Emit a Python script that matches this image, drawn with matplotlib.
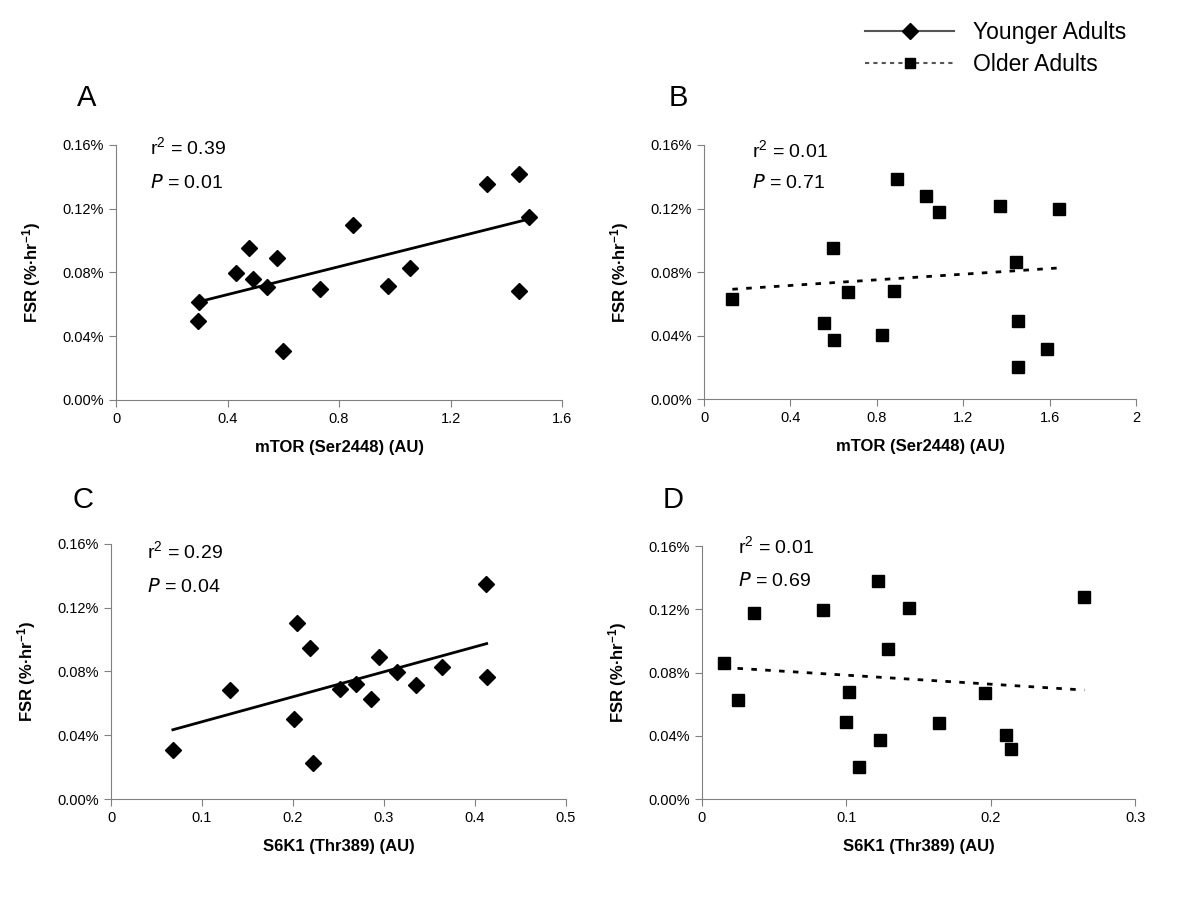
import numpy as np
import matplotlib
matplotlib.use("Agg")
import matplotlib.pyplot as plt
from matplotlib.lines import Line2D
from matplotlib.ticker import FuncFormatter

plt.rcParams['font.family'] = ['Liberation Sans', 'DejaVu Sans']
plt.rcParams['mathtext.default'] = 'regular'

# Panel A: younger adults, mTOR vs FSR (%/hr)
a_x = [0.296, 0.293, 0.429, 0.478, 0.490, 0.543, 0.577, 0.600, 0.733, 0.851,
       0.977, 1.054, 1.329, 1.445, 1.445, 1.481]
a_y = [0.0617, 0.0496, 0.0799, 0.0952, 0.0761, 0.0711, 0.0893, 0.0307, 0.0694, 0.1098,
       0.0717, 0.0828, 0.1355, 0.1420, 0.0686, 0.1150]

# Panel B: older adults, mTOR vs FSR
b_x = [0.131, 0.598, 0.556, 0.602, 0.666, 0.825, 0.879, 0.894, 1.027, 1.087,
       1.370, 1.444, 1.453, 1.453, 1.588, 1.645]
b_y = [0.0629, 0.0950, 0.0482, 0.0375, 0.0675, 0.0403, 0.0682, 0.1384, 0.1279, 0.1179,
       0.1214, 0.0864, 0.0493, 0.0206, 0.0317, 0.1200]

# Panel C: younger adults, S6K1 vs FSR
c_x = [0.068, 0.131, 0.201, 0.205, 0.219, 0.222, 0.252, 0.269, 0.286, 0.295,
       0.314, 0.335, 0.364, 0.412, 0.413]
c_y = [0.0307, 0.0686, 0.0504, 0.1104, 0.0950, 0.0224, 0.0692, 0.0722, 0.0627, 0.0891,
       0.0797, 0.0715, 0.0826, 0.1351, 0.0768]

# Panel D: older adults, S6K1 vs FSR
d_x = [0.0152, 0.0251, 0.0362, 0.0839, 0.1001, 0.1017, 0.1088, 0.1222, 0.1236, 0.1289,
       0.1434, 0.1642, 0.1962, 0.2105, 0.2140, 0.2647]
d_y = [0.0861, 0.0627, 0.1177, 0.1198, 0.0488, 0.0680, 0.0204, 0.1381, 0.0373, 0.0949,
       0.1211, 0.0482, 0.0669, 0.0404, 0.0316, 0.1278]

stats = {"A": ("0.39", "0.01"), "B": ("0.01", "0.71"),
         "C": ("0.29", "0.04"), "D": ("0.01", "0.69")}

y_ticks = [0.0, 0.04, 0.08, 0.12, 0.16]
mtor_ticks = [0, 0.4, 0.8, 1.2, 1.6]
mtor_ticks_b = [0, 0.4, 0.8, 1.2, 1.6, 2]
s6k1_ticks = [0, 0.1, 0.2, 0.3, 0.4, 0.5]
s6k1_ticks_d = [0, 0.1, 0.2, 0.3]

fig = plt.figure(figsize=(12, 9), dpi=100)

panels = [
    # letter, rect, x, y, young?, xticks, xlabel, text pos, letter pos
    ("A", [0.0967, 0.5556, 0.3717, 0.2833], a_x, a_y, True, mtor_ticks,
     "mTOR (Ser2448) (AU)", (0.076, 0.99, 0.85), (0.064, 0.891)),
    ("B", [0.5867, 0.5563, 0.3600, 0.2826], b_x, b_y, False, mtor_ticks_b,
     "mTOR (Ser2448) (AU)", (0.11, 0.98, 0.85), (0.557, 0.891)),
    ("C", [0.0925, 0.1122, 0.3790, 0.2834], c_x, c_y, True, s6k1_ticks,
     "S6K1 (Thr389) (AU)", (0.08, 0.97, 0.83), (0.060, 0.444)),
    ("D", [0.5847, 0.1119, 0.3614, 0.2814], d_x, d_y, False, s6k1_ticks_d,
     "S6K1 (Thr389) (AU)", (0.083, 1.0, 0.86), (0.5525, 0.444)),
]

for letter, rect, xs, ys, young, xticks, xlabel, tpos, lpos in panels:
    ax = fig.add_axes(rect)
    xs = np.array(xs)
    ys = np.array(ys)
    if young:
        ax.plot(xs, ys, linestyle='none', marker='D', ms=8.5, color='black')
    else:
        ax.plot(xs, ys, linestyle='none', marker='s', ms=8.5, color='black')
    # linear trendline
    k, b = np.polyfit(xs, ys, 1)
    tx = np.array([xs.min(), xs.max()])
    if young:
        ax.plot(tx, k * tx + b, color='black', lw=2)
    else:
        ax.plot(tx, k * tx + b, color='black', lw=2, linestyle=(0, (2, 3)))

    ax.set_xlim(xticks[0], xticks[-1])
    ax.set_ylim(0, 0.16)
    ax.set_xticks(xticks)
    ax.set_yticks(y_ticks)
    ax.xaxis.set_major_formatter(FuncFormatter(lambda v, p: f"{v:g}"))
    ax.yaxis.set_major_formatter(FuncFormatter(lambda v, p: f"{v:.2f}%"))
    for side in ['top', 'right']:
        ax.spines[side].set_visible(False)
    for side in ['left', 'bottom']:
        ax.spines[side].set_color('#808080')
    ax.tick_params(direction='out', length=5, color='#808080', labelsize=10.5,
                   labelcolor='black')
    ax.set_xlabel(xlabel, fontsize=12, fontweight='bold', labelpad=10)
    ax.set_ylabel("FSR (%·hr$^{-1}$)", fontsize=12, fontweight='bold', labelpad=14)

    r2, p = stats[letter]
    ax.text(tpos[0], tpos[1], f"r$^{2}$ = {r2}", transform=ax.transAxes,
            fontsize=14, ha='left', va='center')
    ax.text(tpos[0], tpos[2], f"$\\it{{P}}$ = {p}", transform=ax.transAxes,
            fontsize=14, ha='left', va='center')
    fig.text(lpos[0], lpos[1], letter, fontsize=21, ha='left', va='center')

handles = [
    Line2D([], [], color='#555555', lw=1.5, marker='D', ms=8,
           markerfacecolor='black', markeredgecolor='black'),
    Line2D([], [], color='#555555', lw=1.5, linestyle=(0, (2, 2)), marker='s', ms=7,
           markerfacecolor='black', markeredgecolor='black'),
]
fig.legend(handles, ["Younger Adults", "Older Adults"], loc='upper left',
           bbox_to_anchor=(0.704, 1.0), frameon=False, fontsize=16.5,
           handlelength=3.85, handletextpad=0.85, labelspacing=0.42)

fig.savefig("out.png", dpi=100)
